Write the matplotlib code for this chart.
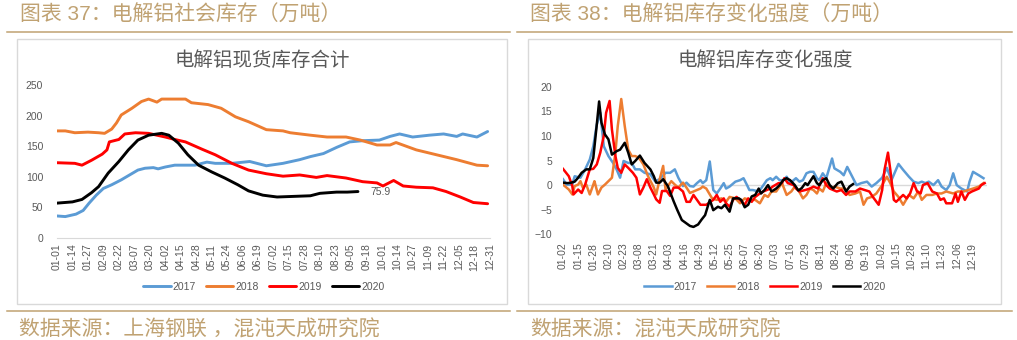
import matplotlib
matplotlib.use('Agg')
import matplotlib.pyplot as plt
from matplotlib.lines import Line2D
from matplotlib.patches import Rectangle
import pandas as pd

plt.rcParams['font.family'] = ['Liberation Sans', 'Noto Sans CJK SC']

# ---- data (day of year, value) ----
years = ['2017', '2018', '2019', '2020']
colors = ['#5B9BD5', '#ED7D31', '#FF0000', '#000000']

# 电解铝现货库存合计 (万吨)
stock_2017 = [(0, 36), (7, 35), (16, 39), (22, 45), (27, 57), (33, 70), (39, 81), (46, 87),
              (54, 95), (61, 103), (68, 111), (74, 114), (81, 115), (85, 113), (91, 116),
              (99, 119), (116, 119), (126, 124), (133, 122), (147, 122), (162, 125),
              (176, 118), (190, 122), (204, 128), (213, 133), (224, 138), (235, 148),
              (246, 157), (257, 159), (271, 160), (280, 166), (288, 170), (299, 165),
              (313, 168), (325, 170), (336, 166), (341, 170), (353, 165), (362, 174)]
stock_2018 = [(0, 175), (7, 175), (15, 172), (26, 173), (35, 172), (40, 171), (46, 178),
              (50, 188), (54, 201), (63, 212), (71, 223), (77, 227), (84, 222), (88, 227),
              (108, 227), (113, 221), (127, 218), (138, 212), (150, 198), (161, 190),
              (176, 177), (190, 175), (196, 172), (213, 168), (227, 165), (243, 165),
              (255, 160), (269, 152), (280, 152), (285, 156), (302, 144), (319, 136),
              (336, 128), (353, 119), (362, 118)]
stock_2019 = [(0, 123), (15, 122), (21, 119), (29, 127), (38, 137), (42, 144), (44, 157),
              (52, 161), (57, 170), (66, 172), (77, 171), (91, 165), (99, 161), (108, 157),
              (122, 145), (133, 136), (147, 122), (161, 111), (176, 105), (190, 101),
              (204, 103), (218, 99), (227, 102), (243, 98), (257, 92), (269, 90), (274, 85),
              (283, 94), (291, 85), (302, 83), (316, 82), (327, 76), (339, 67), (350, 58),
              (362, 56)]
stock_2020 = [(0, 57), (13, 59), (21, 63), (29, 74), (35, 84), (43, 106), (52, 125),
              (60, 144), (68, 160), (77, 168), (88, 171), (94, 168), (102, 155), (110, 136),
              (119, 119), (130, 108), (141, 98), (152, 87), (161, 77), (173, 70), (185, 67),
              (199, 68), (213, 69), (221, 73), (235, 75), (244, 75), (253, 75.9)]

# 电解铝库存变化强度 (万吨)
chg_2017 = [(1, 1.2), (4, 0.1), (9, 0.1), (11, 1.8), (16, 1.5), (20, 3.2), (24, 5.2), (27, 7.9),
            (30, 12.3), (33, 14.7), (36, 7.9), (40, 5.9), (44, 4.5), (47, 3.2), (50, 1.5),
            (53, 4.9), (57, 4.5), (60, 4.5), (63, 3.2), (67, 3.2), (71, 2.5), (76, 2.2),
            (80, 0.8), (84, 1.2), (89, 2.5), (93, 2.5), (97, 3.2), (100, 1.5), (104, -0.2),
            (107, 0.5), (110, -0.2), (113, -0.3), (116, 0.4), (119, 1.0), (121, 0.4),
            (124, 1.0), (127, 4.8), (130, -1.0), (133, -1.7), (136, -0.7), (139, 0.4),
            (141, -0.7), (144, -0.3), (149, 0.7), (153, 1.0), (156, 1.4), (159, 0.0),
            (161, -1.0), (164, -1.0), (169, -1.3), (171, -0.7), (176, 1.0), (179, 1.4),
            (181, 1.0), (184, 1.7), (187, 1.0), (190, 1.0), (193, 1.7), (196, 0.4),
            (199, 1.0), (201, 1.4), (204, 0.7), (207, 1.0), (210, 2.4), (213, 2.7),
            (216, 2.7), (219, 1.4), (221, 1.0), (224, 2.4), (227, 1.4), (232, 5.4),
            (234, 3.4), (239, 2.7), (242, 2.0), (245, 3.7), (250, 1.4), (253, 0.0),
            (257, 0.4), (262, 0.7), (266, -0.3), (270, 0.4), (275, 1.5), (279, 3.5),
            (283, 1.0), (289, 4.3), (293, 3.1), (298, 1.7), (302, 0.7), (306, 0.4),
            (309, 0.7), (312, 0.4), (315, 0.7), (319, 0.0), (323, 1.0), (326, -0.3),
            (330, -1.0), (333, 0.0), (336, 2.4), (339, 0.0), (343, -0.7), (348, -1.3),
            (350, 0.7), (353, 2.7), (358, 2.0), (362, 1.4)]
chg_2018 = [(1, 0.1), (6, -0.9), (9, -1.9), (11, -0.2), (14, 0.1), (16, 0.8), (18, -0.5),
            (21, 0.1), (24, -1.9), (27, 0.1), (28, 0.8), (31, -1.9), (34, -0.5), (37, 0.1),
            (40, 0.8), (43, 1.5), (46, 6.6), (48, 12.0), (51, 17.5), (54, 12.0), (57, 7.2),
            (60, 5.9), (63, 5.9), (66, 5.6), (70, 4.2), (74, 1.8), (79, -0.5), (81, -1.9),
            (84, 1.2), (87, 3.9), (89, -0.9), (91, -0.2), (94, 0.8), (97, 0.1), (100, -0.5),
            (104, 0.5), (107, -0.5), (110, -1.6), (113, -1.3), (116, -1.0), (119, -0.7),
            (121, -0.3), (124, -0.7), (129, -2.7), (133, -3.0), (137, -2.7), (141, -3.4),
            (144, -2.4), (149, -2.7), (153, -3.7), (157, -2.7), (161, -3.0), (166, -3.0),
            (170, -3.7), (174, -2.0), (177, -2.4), (180, -1.3), (184, -1.3), (189, 0.4),
            (193, -2.0), (197, -1.3), (200, -0.3), (203, -1.0), (207, -2.7), (210, -2.0),
            (213, -0.7), (216, -1.0), (219, -1.7), (221, -0.7), (224, -1.3), (227, 0.4),
            (232, -0.7), (234, -0.3), (239, -0.7), (243, -0.7), (247, -2.0), (252, -1.7),
            (256, -1.3), (259, -4.0), (262, -2.7), (266, -2.4), (270, -1.7), (275, 0.0),
            (279, 1.7), (282, 0.4), (285, -1.3), (289, -2.4), (293, -4.0), (298, -2.0),
            (302, -2.7), (306, -1.3), (309, -3.0), (313, -2.0), (318, -2.0), (322, -1.7),
            (326, -1.7), (330, -1.3), (336, -1.7), (340, -1.3), (345, -1.3), (349, -1.0),
            (353, -0.7), (358, -0.3), (362, 0.4)]
chg_2019 = [(1, 3.3), (6, 1.8), (9, -0.2), (10, -1.9), (14, -0.9), (17, -1.6), (20, 0.1),
            (24, 3.2), (27, 3.3), (30, 4.2), (33, 6.6), (36, 10.0), (38, 14.7), (41, 17.1),
            (43, 11.3), (46, 5.9), (48, 3.5), (51, 2.5), (54, 4.2), (57, 3.5), (61, 2.5),
            (64, 1.5), (67, -1.9), (70, -0.5), (73, 1.2), (76, -0.5), (79, -1.9), (81, -2.9),
            (84, -3.6), (86, -1.2), (90, -1.2), (93, -2.2), (96, -0.5), (100, -0.5),
            (104, -1.3), (107, -3.4), (110, -3.4), (113, -2.0), (116, -3.0), (119, -4.0),
            (124, -4.0), (130, -3.0), (133, -2.0), (136, -3.4), (139, -2.7), (141, -3.7),
            (144, -4.4), (147, -3.0), (150, -2.4), (153, -3.0), (157, -4.0), (160, -2.7),
            (163, -3.4), (166, -2.4), (170, -1.7), (173, -1.3), (176, -1.0), (179, -0.7),
            (181, -0.3), (186, 0.4), (189, 0.4), (191, 1.4), (194, 0.4), (199, 0.0),
            (201, -0.7), (204, -1.3), (209, -1.0), (213, -0.7), (216, -0.3), (220, -0.7),
            (224, 1.4), (227, 0.0), (230, -0.7), (233, -1.0), (236, -1.3), (240, -1.0),
            (244, -2.0), (247, -1.3), (252, -1.3), (256, -0.7), (260, -1.0), (264, -1.3),
            (267, -2.4), (272, -4.0), (275, -1.0), (277, 3.1), (280, 6.6), (282, 3.1),
            (285, -3.0), (287, -3.4), (290, -2.7), (293, -2.0), (296, -2.7), (299, -1.7),
            (302, 0.4), (305, -1.3), (308, -1.7), (310, 0.0), (314, 0.4), (318, -1.3),
            (322, -1.7), (325, -3.0), (328, -2.7), (330, -3.7), (335, -3.7), (338, -1.7),
            (340, -3.4), (343, -1.3), (346, -3.0), (349, -1.7), (352, -1.3), (355, -1.0),
            (358, -0.7), (360, 0.0), (363, 0.4)]
chg_2020 = [(1, 0.5), (5, 0.4), (8, 0.5), (11, 0.7), (14, 1.5), (17, 2.5), (21, 3.2), (24, 3.2),
            (27, 5.5), (30, 12.3), (32, 17.0), (34, 12.7), (37, 10.3), (40, 9.3), (43, 6.2),
            (47, 6.9), (50, 7.2), (54, 8.6), (57, 6.6), (60, 4.2), (63, 4.9), (67, 6.0),
            (71, 4.5), (76, 3.2), (79, 1.8), (81, 0.5), (84, 0.5), (87, 1.2), (91, -0.2),
            (96, -3.3), (99, -5.0), (103, -7.1), (110, -8.3), (113, -8.5), (117, -8.0),
            (120, -7.0), (123, -6.1), (127, -3.0), (130, -5.1), (134, -4.4), (137, -4.7),
            (140, -4.0), (144, -5.4), (147, -2.7), (152, -2.7), (154, -3.0), (157, -4.5),
            (160, -4.0), (163, -2.3), (166, -2.0), (169, -0.7), (171, -1.7), (174, -1.0),
            (177, 0.0), (180, -1.3), (184, -0.7), (187, 0.0), (190, 1.0), (193, 1.4),
            (196, 1.0), (200, 0.0), (203, -1.1), (206, -0.6), (209, 0.4), (211, 0.0),
            (216, 1.8), (219, 0.4), (221, 0.0), (224, 1.0), (227, 1.4), (230, 0.0),
            (233, -0.7), (237, 0.4), (240, 0.7), (244, -1.3), (247, -0.3), (250, 0.2)]

stock_series = [stock_2017, stock_2018, stock_2019, stock_2020]
chg_series = [chg_2017, chg_2018, chg_2019, chg_2020]

base = pd.Timestamp('2019-01-01')
left_ticks = list(range(0, 365, 13))
right_ticks = list(range(1, 353, 13))


def day_labels(days):
    return [(base + pd.Timedelta(days=d)).strftime('%m-%d') for d in days]


W, H = 1017, 340
tan = '#C0A272'
gray = '#595959'


def fx(px):
    return px / W


def fy(py):
    return 1 - py / H


fig = plt.figure(figsize=(W / 100, H / 100), dpi=100)

# frames, rules, headings
for x0, x1 in [(17, 507), (528, 1001)]:
    fig.add_artist(Rectangle((fx(x0), fy(304)), fx(x1) - fx(x0), fy(39) - fy(304),
                             transform=fig.transFigure, fill=False, edgecolor='#D9D9D9', lw=1))
for x0, x1 in [(7, 510), (517, 1012)]:
    for yy in [31.5, 311]:
        fig.add_artist(Line2D([fx(x0), fx(x1)], [fy(yy), fy(yy)], transform=fig.transFigure,
                              color=tan, lw=1.1))

head = dict(color=tan, fontsize=15, va='center', fontweight='light')
fig.text(fx(20), fy(15), '图表 37：电解铝社会库存（万吨）', **head)
fig.text(fx(530), fy(15), '图表 38：电解铝库存变化强度（万吨）', **head)
fig.text(fx(19), fy(329), '数据来源：上海钢联 ，混沌天成研究院', **head)
fig.text(fx(530), fy(329), '数据来源：混沌天成研究院', **head)
fig.text(fx(262), fy(60), '电解铝现货库存合计', color=gray, fontsize=14, ha='center', va='center')
fig.text(fx(765), fy(60), '电解铝库存变化强度', color=gray, fontsize=14, ha='center', va='center')

# left chart
ax1 = fig.add_axes([fx(57), fy(238), fx(490) - fx(57), fy(85) - fy(238)])
for s, yr, c in zip(stock_series, years, colors):
    ax1.plot([p[0] for p in s], [p[1] for p in s], color=c, lw=2.1, label=yr,
             solid_capstyle='round', solid_joinstyle='round')
last = stock_2020[-1]
ax1.annotate(f'{last[1]:.1f}', xy=last, xytext=(12, 0), textcoords='offset pixels',
             va='center', ha='left', fontsize=7.5, color=gray)
ax1.set_xlim(0, 364)
ax1.set_ylim(0, 250)
ax1.set_yticks(range(0, 251, 50))
ax1.set_xticks(left_ticks)
ax1.set_xticklabels(day_labels(left_ticks), rotation=90)
ax1.tick_params(axis='x', length=0, pad=4, labelsize=7.5, labelcolor=gray)
ax1.tick_params(axis='y', length=0, pad=10, labelsize=7.5, labelcolor=gray)
for sp in ['top', 'right', 'left']:
    ax1.spines[sp].set_visible(False)
ax1.spines['bottom'].set_color('#D9D9D9')
ax1.set_facecolor('none')

# right chart
ax2 = fig.add_axes([fx(563), fy(234.3), fx(987) - fx(563), fy(86.7) - fy(234.3)])
ax2.axhline(0, color='#D9D9D9', lw=1, zorder=0)
for s, yr, c in zip(chg_series, years, colors):
    ax2.plot([p[0] for p in s], [p[1] for p in s], color=c, lw=1.8, label=yr,
             solid_joinstyle='round')
ax2.set_xlim(1, 365)
ax2.set_ylim(-10, 20)
ax2.set_yticks(range(-10, 21, 5))
ax2.set_xticks(right_ticks)
ax2.set_xticklabels(day_labels(right_ticks), rotation=90)
ax2.tick_params(axis='x', length=0, pad=6, labelsize=7.5, labelcolor=gray)
ax2.tick_params(axis='y', length=0, pad=8, labelsize=7.5, labelcolor=gray)
for sp in ax2.spines.values():
    sp.set_visible(False)
ax2.set_facecolor('none')

# legends
for ax, cx in [(ax1, 264), (ax2, 765)]:
    h, l = ax.get_legend_handles_labels()
    leg = fig.legend(h, l, loc='center', bbox_to_anchor=(fx(cx), fy(287)), ncol=4,
                     frameon=False, fontsize=7.5, handlelength=2.6, handletextpad=0.2,
                     columnspacing=1.0)
    for t in leg.get_texts():
        t.set_color(gray)

fig.savefig('out.png', dpi=100)
